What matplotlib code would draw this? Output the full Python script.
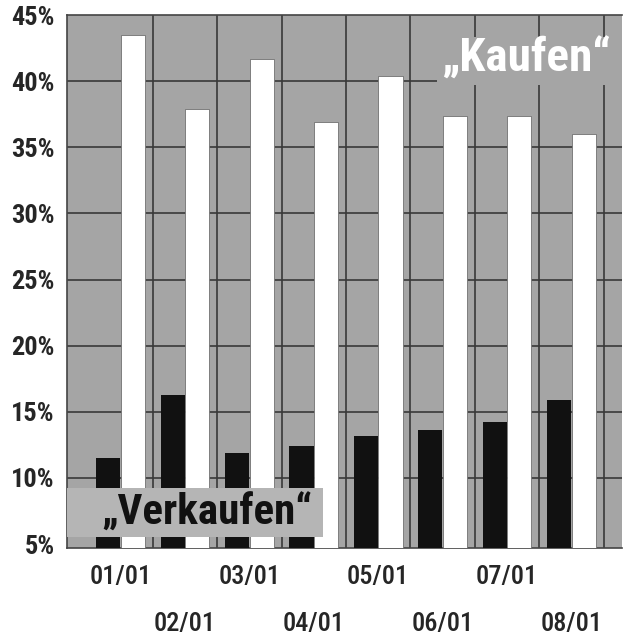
import numpy as np
import matplotlib
matplotlib.use("Agg")
import matplotlib.pyplot as plt
from matplotlib.patches import Rectangle

# Monatswerte (Anteil der Empfehlungen in %)
months = ["01/01", "02/01", "03/01", "04/01", "05/01", "06/01", "07/01", "08/01"]
verkaufen = [11.5, 16.3, 11.9, 12.4, 13.2, 13.6, 14.2, 15.9]
kaufen = [43.5, 37.9, 41.7, 36.9, 40.4, 37.4, 37.4, 36.0]
yticks = [5, 10, 15, 20, 25, 30, 35, 40, 45]

FONT = ["Roboto Condensed", "Archivo Narrow", "DejaVu Sans"]
BG = "#a5a5a5"
GRID = "#383838"

fig = plt.figure(figsize=(6.24, 6.39), dpi=100)
ax = fig.add_axes([0.1074, 0.1424, 0.889, 0.834])
ax.set_facecolor(BG)

x = np.arange(len(months))
w = 0.375
ax.bar(x - 0.19, verkaufen, width=w, color="#111111", zorder=3)
ax.bar(x + 0.19, kaufen, width=w, color="white", edgecolor="#707070",
       linewidth=0.6, zorder=3)

ax.set_xlim(-0.83, 7.78)
ax.set_ylim(4.7, 45)

# Gitter
for g in yticks[1:-1]:
    ax.axhline(g, color=GRID, lw=1.2, zorder=1)
for g in np.arange(0.5, 8, 1):
    ax.axvline(g, color=GRID, lw=1.2, zorder=1)

for s in ["left", "bottom", "top"]:
    ax.spines[s].set_color("#444444")
    ax.spines[s].set_linewidth(1.2)
ax.spines["right"].set_visible(False)

ax.set_yticks(yticks)
ax.set_yticklabels([f"{v}%" for v in yticks], family=FONT, fontsize=19,
                   fontweight="bold", color="#262626")
ax.tick_params(axis="y", length=0, pad=9)

ax.set_xticks(x)
ax.set_xticklabels(months, family=FONT, fontsize=19, fontweight="medium",
                   color="#262626")
ax.tick_params(axis="x", length=0)
for i, t in enumerate(ax.xaxis.get_major_ticks()):
    t.set_pad(12 if i % 2 == 0 else 46)

# Beschriftungen
ax.add_patch(Rectangle((0, 0.021), 0.461, 0.092, transform=ax.transAxes,
                       facecolor="#b5b5b5", edgecolor="none", zorder=5))
ax.text(0.252, 0.066, "\u201eVerkaufen\u201c", transform=ax.transAxes,
        ha="center", va="center", family=FONT, fontsize=31,
        fontweight="bold", color="#111111", zorder=6)

ax.add_patch(Rectangle((0.667, 0.869), 0.333, 0.09, transform=ax.transAxes,
                       facecolor=BG, edgecolor="none", zorder=5))
ax.text(0.827, 0.918, "\u201eKaufen\u201c", transform=ax.transAxes,
        ha="center", va="center", family=FONT, fontsize=34,
        fontweight="bold", color="white", zorder=6)

fig.savefig("out.png", dpi=100, facecolor="white")
